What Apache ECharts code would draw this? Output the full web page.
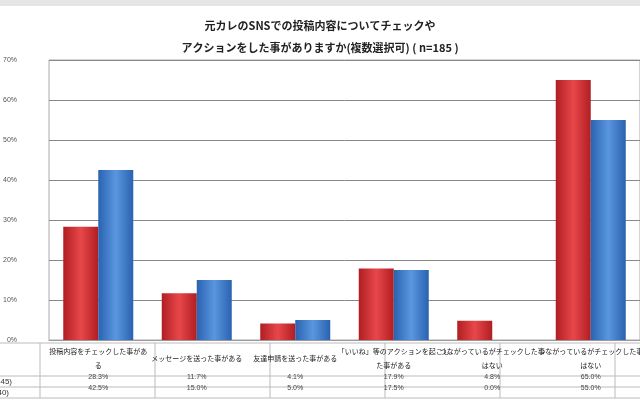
<!DOCTYPE html>
<html>
<head>
<meta charset="utf-8">
<script src="https://cdn.jsdelivr.net/npm/echarts@6/dist/echarts.min.js"></script>
<style>body{margin:0;background:#fff}#c{width:640px;height:400px}</style>
</head>
<body>
<div id="c"></div>
<script>
var categories = ['投稿内容をチェックした事があ\nる', 'メッセージを送った事がある', '友達申請を送った事がある',
  '「いいね」等のアクションを起こし\nた事がある', 'つながっているがチェックした事\nはない', 'つながっているがチェックした事\nはない'];
var seriesNames = ['女性(n=145)', '男性(n=40)'];
var redValues = [28.3, 11.7, 4.1, 17.9, 4.8, 65.0];
var blueValues = [42.5, 15.0, 5.0, 17.5, 0.0, 55.0];

var chart = echarts.init(document.getElementById('c'));
var gl = 40, gTop = 60, gBottom = 340, catW = 115;

function grad(c1, c2) {
  return new echarts.graphic.LinearGradient(0, 0, 1, 0, [
    {offset: 0, color: c1}, {offset: 0.5, color: c2}, {offset: 1, color: c1}]);
}

var lines = [];
[343, 376, 387, 398].forEach(function (y) {
  lines.push({type: 'line', shape: {x1: 0, y1: y, x2: 640, y2: y}, style: {stroke: '#bbb', lineWidth: 1}});
});
for (var i = 0; i <= categories.length; i++) {
  var x = gl + i * catW;
  lines.push({type: 'line', shape: {x1: x, y1: 343, x2: x, y2: 398}, style: {stroke: '#bbb', lineWidth: 1}});
}
lines.push({type: 'text', x: 12, y: 378, style: {text: seriesNames[0], fontSize: 8, fill: '#333', textAlign: 'right'}});
lines.push({type: 'text', x: 9, y: 389, style: {text: seriesNames[1], fontSize: 8, fill: '#333', textAlign: 'right'}});
lines.push({type: 'rect', shape: {x: 0, y: 0, width: 640, height: 6}, style: {fill: '#e6e6e6'}});

chart.setOption({
  animation: false,
  title: {
    text: '元カレのSNSでの投稿内容についてチェックや\nアクションをした事がありますか(複数選択可) ( n=185 )',
    left: 'center', top: 10,
    textStyle: {fontSize: 11, fontWeight: 'bold', color: '#222', lineHeight: 22, fontFamily: 'Noto Sans CJK JP'}
  },
  grid: {left: gl, width: catW * categories.length, top: gTop, height: gBottom - gTop,
    show: true, borderColor: '#aaa', containLabel: false},
  xAxis: {
    type: 'category', data: categories,
    axisTick: {show: false}, axisLine: {lineStyle: {color: '#999'}},
    axisLabel: {
      interval: 0, margin: 4,
      formatter: function (v, idx) {
        var n = v.indexOf('\n') >= 0 ? '{n|' + v.replace('\n', '}\n{n|') + '}' : '{s|' + v + '}';
        return n + '\n{v|' + redValues[idx].toFixed(1) + '%}\n{v|' + blueValues[idx].toFixed(1) + '%}';
      },
      rich: {
        n: {fontSize: 7, lineHeight: 14, color: '#222', fontFamily: 'Noto Sans CJK JP'},
        s: {fontSize: 7, lineHeight: 28, color: '#222', fontFamily: 'Noto Sans CJK JP'},
        v: {fontSize: 7, lineHeight: 11, color: '#444'}
      }
    }
  },
  yAxis: {
    type: 'value', min: 0, max: 70, interval: 10,
    axisLabel: {formatter: '{value}%', fontSize: 7, color: '#555', margin: 32},
    splitLine: {lineStyle: {color: '#888'}}, axisLine: {show: false}, axisTick: {show: false}
  },
  series: [
    {name: seriesNames[0], type: 'bar', data: redValues, barWidth: 35, barGap: '0%',
      itemStyle: {color: grad('#b01e22', '#e8474a')}},
    {name: seriesNames[1], type: 'bar', data: blueValues, barWidth: 35,
      itemStyle: {color: grad('#2a62b0', '#5a96e0')}}
  ],
  graphic: lines
});
</script>
</body>
</html>
